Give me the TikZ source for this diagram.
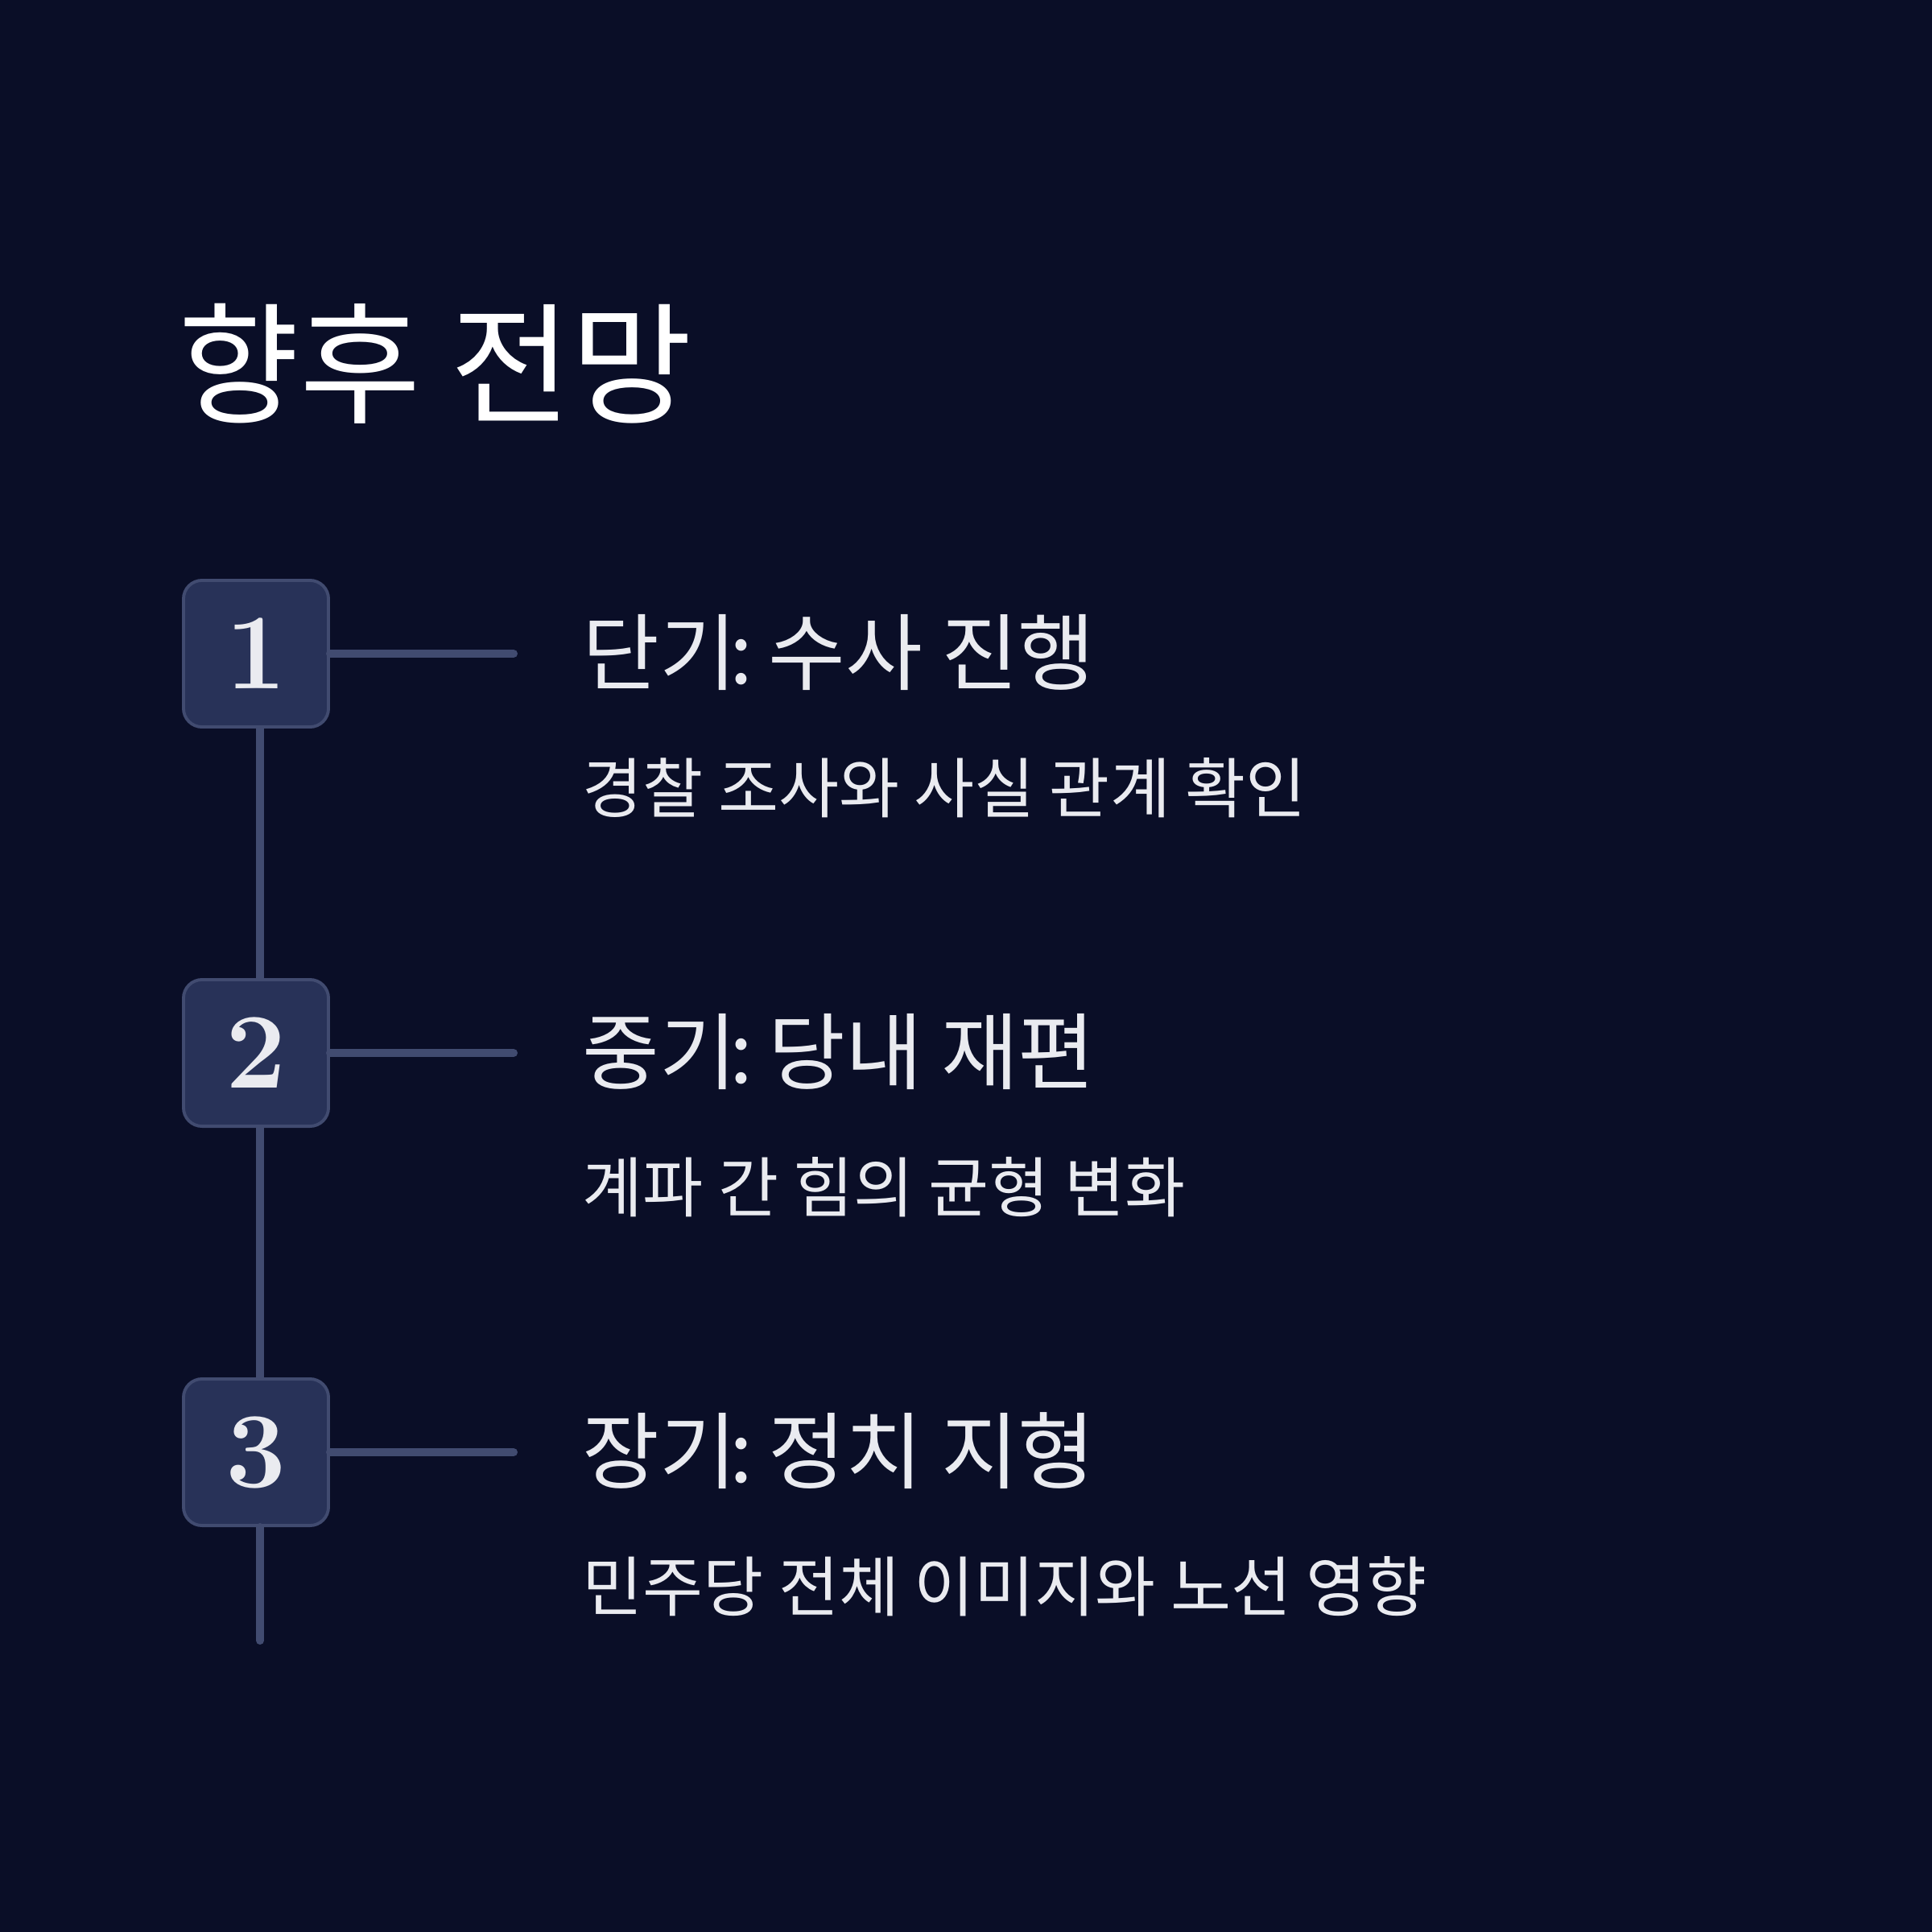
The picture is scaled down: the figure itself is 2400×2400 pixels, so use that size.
\documentclass[tikz,border=0pt]{standalone}
\usepackage{fontspec}
\newfontfamily\kr{Noto Sans CJK KR}
\setmainfont{Latin Modern Roman}
\definecolor{bg}{RGB}{10,14,39}
\definecolor{boxfill}{RGB}{40,50,88}
\definecolor{linec}{RGB}{65,75,112}
\definecolor{txt}{RGB}{234,235,240}
\newcommand{\clnx}{\kern-0.08em:\hspace{-0.12em}}
\begin{document}
\begin{tikzpicture}[x=0.01cm,y=-0.01cm,
  numbox/.style={draw=linec,fill=boxfill,line width=1.1pt,rounded corners=0.23cm,
    minimum width=1.8cm,minimum height=1.82cm,inner sep=0pt,text=txt,
    font=\fontsize{38}{38}\selectfont\bfseries},
  conn/.style={draw=linec,line width=2.85pt},
  title/.style={anchor=base west,inner sep=0pt,text=white,font=\kr\fontsize{46.5}{46.5}\selectfont},
  head/.style={anchor=base west,inner sep=0pt,text=txt,font=\kr\fontsize{29.6}{29.6}\selectfont},
  sub/.style={anchor=base west,inner sep=0pt,text=txt,font=\kr\fontsize{23.2}{23.2}\selectfont}]
\fill[bg] (0,0) rectangle (2400,2400);
\useasboundingbox (0,0) rectangle (2400,2400);
\node[title] (t) at (221,513) {향후 전망};
\coordinate (vend) at (323,2038);
\coordinate (h1) at (638,812);
\coordinate (h2) at (638,1308);
\coordinate (h3) at (638,1804);
\node[numbox] (b1) at (318,812) {1};
\node[numbox] (b2) at (318,1308) {2};
\node[numbox] (b3) at (318,1804) {3};
\draw[conn] (b1.south -| vend) -- (b2.north -| vend);
\draw[conn] (b2.south -| vend) -- (b3.north -| vend);
\draw[conn,line cap=round] (b3.south -| vend) -- (vend);
\draw[conn,line cap=round] (b1.east) -- (h1);
\draw[conn,line cap=round] (b2.east) -- (h2);
\draw[conn,line cap=round] (b3.east) -- (h3);
\node[head] (h1t) at (723,849) {단기\clnx{} 수사 진행};
\node[sub] (s1t) at (723,1009) {경찰 조사와 사실 관계 확인};
\node[head] (h2t) at (723,1345) {중기\clnx{} 당내 재편};
\node[sub] (s2t) at (723,1505) {계파 간 힘의 균형 변화};
\node[head] (h3t) at (723,1841) {장기\clnx{} 정치 지형};
\node[sub] (s3t) at (723,2001) {민주당 전체 이미지와 노선 영향};
\end{tikzpicture}
\end{document}
